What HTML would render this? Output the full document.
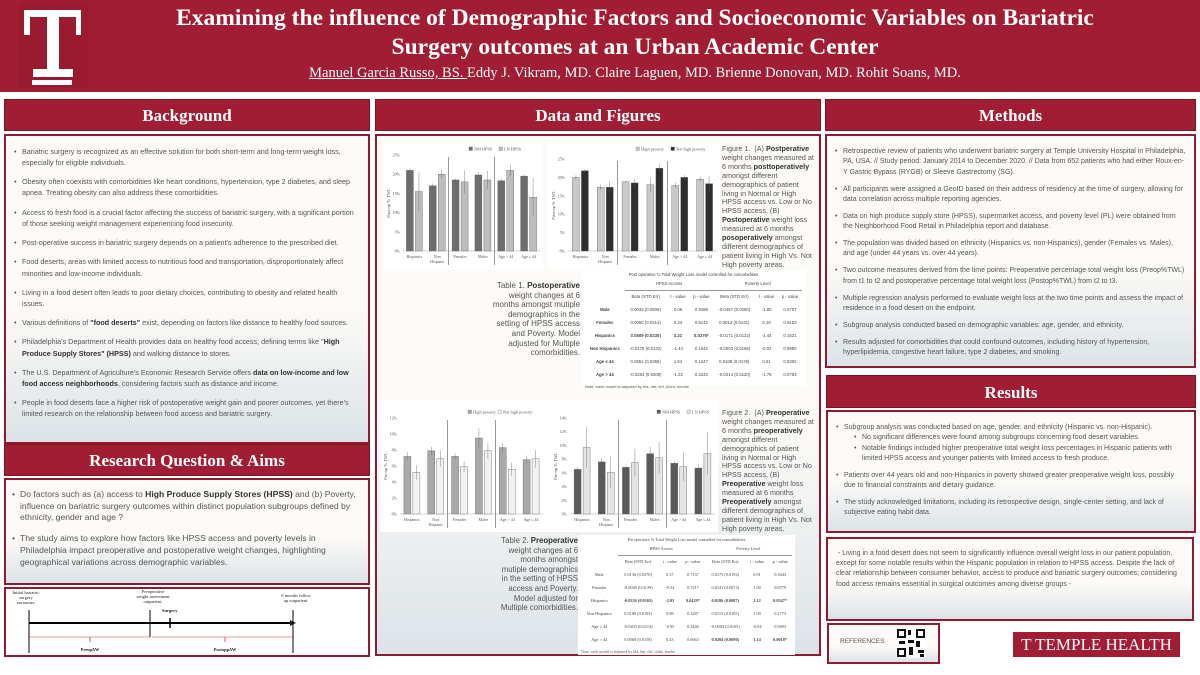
<!DOCTYPE html>
<html><head><meta charset="utf-8">
<style>
*{margin:0;padding:0;box-sizing:border-box}
body{width:1200px;height:675px;background:#fff;position:relative;overflow:hidden;font-family:"Liberation Sans",sans-serif;color:#555}
.abs{position:absolute}
.hdr{position:absolute;background:#a11d33;color:#fff;font-family:"Liberation Serif",serif;font-weight:bold;font-size:17px;text-align:center;border:1px solid #7d1426}
.box{position:absolute;border:2px solid #8e1b30;background:linear-gradient(#fdfbf8 55%,#dce3e7)}
ul{list-style:none}
li{position:relative;padding-left:10px}
li:before{content:"•";position:absolute;left:2px}
.bg li{font-size:7.2px;line-height:11.1px;margin-bottom:8.2px}
.mt li{font-size:7px;line-height:10.3px;margin-bottom:6.7px}
.cap{position:absolute;font-size:7.2px;line-height:8.9px;color:#555;white-space:nowrap}
.cap b{color:#333}
table{border-collapse:collapse;font-size:4.3px;color:#444;width:100%}
td{padding:0 2px;height:13px;text-align:center}
.tb{position:absolute;background:#fff}
</style></head><body>
<div class="abs" style="left:0;top:0;width:1200px;height:92px;background:#a11d33"></div>
<div class="abs" style="left:18px;top:4px;width:70px;height:84px;background:#9a1a30"></div>
<svg class="abs" style="left:18px;top:4px" width="70" height="84"><path d="M6 6h57v25h-5v-18h-17v52h14v8h-40v-8h14v-52h-17v18h-6z" fill="#fff"/><rect x="14" y="76" width="40" height="5" fill="#fff"/></svg>
<div class="abs" style="left:100px;top:4px;width:1070px;text-align:center;color:#fff;font-family:'Liberation Serif',serif;font-weight:bold;font-size:23.5px;line-height:29px">Examining the influence of Demographic Factors and Socioeconomic Variables on Bariatric<br>Surgery outcomes at an Urban Academic Center</div>
<div class="abs" style="left:100px;top:65px;width:1070px;text-align:center;color:#fff;font-family:'Liberation Serif',serif;font-size:14.5px"><u>Manuel Garcia Russo, BS. </u>Eddy J. Vikram, MD. Claire Laguen, MD. Brienne Donovan, MD. Rohit Soans, MD.</div>

<!-- left column -->
<div class="hdr" style="left:4px;top:99px;width:366px;height:32px;line-height:32px">Background</div>
<div class="box bg" style="left:4px;top:134px;width:366px;height:310px;padding:10px 8px 0 6px">
<ul>
<li>Bariatric surgery is recognized as an effective solution for both short-term and long-term weight loss, especially for eligible individuals.</li>
<li>Obesity often coexists with comorbidities like heart conditions, hypertension, type 2 diabetes, and sleep apnea. Treating obesity can also address these comorbidities.</li>
<li>Access to fresh food is a crucial factor affecting the success of bariatric surgery, with a significant portion of those seeking weight management experiencing food insecurity.</li>
<li>Post-operative success in bariatric surgery depends on a patient's adherence to the prescribed diet.</li>
<li>Food deserts, areas with limited access to nutritious food and transportation, disproportionately affect minorities and low-income individuals.</li>
<li>Living in a food desert often leads to poor dietary choices, contributing to obesity and related health issues.</li>
<li>Various definitions of <b style="color:#333">"food deserts"</b> exist, depending on factors like distance to healthy food sources.</li>
<li>Philadelphia's Department of Health provides data on healthy food access, defining terms like "<b style="color:#333">High Produce Supply Stores" (HPSS)</b> and walking distance to stores.</li>
<li>The U.S. Department of Agriculture's Economic Research Service offers <b style="color:#333">data on low-income and low food access neighborhoods</b>, considering factors such as distance and income.</li>
<li>People in food deserts face a higher risk of postoperative weight gain and poorer outcomes, yet there's limited research on the relationship between food access and bariatric surgery.</li>
</ul></div>
<div class="hdr" style="left:4px;top:444px;width:366px;height:32px;line-height:32px">Research Question &amp; Aims</div>
<div class="box" style="left:4px;top:478px;width:366px;height:107px;padding:9px 6px 0 4px">
<ul style="font-size:8.6px;line-height:11.7px">
<li style="margin-bottom:9px">Do factors such as (a) access to <b style="color:#333">High Produce Supply Stores (HPSS)</b> and (b) Poverty, influence on bariatric surgery outcomes within distinct population subgroups defined by ethnicity, gender and age ?</li>
<li>The study aims to explore how factors like HPSS access and poverty levels in Philadelphia impact preoperative and postoperative weight changes, highlighting geographical variations across demographic variables.</li>
</ul></div>
<div class="box" style="left:4px;top:587px;width:366px;height:70px;background:#fff"></div>
<svg class="abs" style="left:4px;top:587px" width="366" height="70" font-family="Liberation Serif" font-size="4.5" fill="#222">
<text x="22" y="7" text-anchor="middle">Initial bariatric</text><text x="22" y="12" text-anchor="middle">surgery</text><text x="22" y="17" text-anchor="middle">encounter.</text>
<text x="149" y="6" text-anchor="middle">Preoperative</text><text x="149" y="11" text-anchor="middle">weight assessment</text><text x="149" y="16" text-anchor="middle">outpatient.</text>
<text x="158" y="25" font-weight="bold">Surgery</text>
<text x="292" y="10" text-anchor="middle">6 months follow</text><text x="292" y="15" text-anchor="middle">up outpatient.</text>
<line x1="25" y1="36" x2="288" y2="36" stroke="#000" stroke-width="2"/><path d="M286 33l6 3-6 3z"/>
<line x1="25" y1="23" x2="25" y2="66" stroke="#000" stroke-width="1"/>
<line x1="146" y1="23" x2="146" y2="50" stroke="#000" stroke-width="1"/>
<line x1="166" y1="31" x2="166" y2="41" stroke="#000" stroke-width="1.5"/>
<line x1="289" y1="23" x2="289" y2="66" stroke="#000" stroke-width="1"/>
<path d="M25 50h121M148 50h141" stroke="#c33" stroke-width=".6" fill="none"/>
<path d="M86 50v5M221 50v5" stroke="#c33" stroke-width=".8"/>
<text x="86" y="64" text-anchor="middle" font-weight="bold">PreopΔW</text><text x="221" y="64" text-anchor="middle" font-weight="bold">PostoppΔW</text>
</svg>

<!-- middle -->
<div class="hdr" style="left:375px;top:99px;width:446px;height:32px;line-height:32px">Data and Figures</div>
<div class="box" style="left:375px;top:134px;width:446px;height:522px"></div>
<div class="abs" style="left:380px;top:400px;width:338px;height:132px;background:#fff"></div>
<div id="charts"></div>
<div class="cap" style="left:722px;top:145px">Figure 1. &nbsp;(A) <b>Postperative</b><br>weight changes measured at<br>6 months <b>posttoperatively</b><br>amongst different<br>demographics of patient<br>living in Normal or High<br>HPSS access vs. Low or No<br>HPSS access. (B)<br><b>Postoperative</b> weight loss<br>measured at 6 months<br><b>posoperatively</b> amongst<br>different demographics of<br>patient living in High Vs. Not<br>High poverty areas.</div>
<div class="cap" style="left:722px;top:409px">Figure 2. &nbsp;(A) <b>Preoperative</b><br>weight changes measured at<br>6 months <b>preoperatively</b><br>amongst different<br>demographics of patient<br>living in Normal or High<br>HPSS access vs. Low or No<br>HPSS access. (B)<br><b>Preoperative</b> weight loss<br>measured at 6 months<br><b>Preoperatively</b> amongst<br>different demographics of<br>patient living in High Vs. Not<br>High poverty areas.</div>
<div class="cap" style="left:440px;top:281px;width:140px;text-align:right;line-height:9.6px;font-size:8px">Table 1. <b>Postoperative</b><br>weight changes at 6<br>months amongst mutiple<br>demographics in the<br>setting of HPSS access<br>and Poverty. Model<br>adjusted for Multiple<br>comorbidities.</div>
<div class="cap" style="left:478px;top:536px;width:100px;text-align:right;line-height:9.6px;font-size:7.8px">Table 2. <b>Preoperative</b><br>weight changes at 6<br>months amongst<br>mutiple demographics<br>in the setting of HPSS<br>access and Poverty.<br>Model adjusted for<br>Multiple comorbidities.</div>
<div class="tb" style="left:582px;top:270px;width:223px;height:116px;padding:2px 3px">
<div style="font-size:4.2px;text-align:center;color:#444">Post operative % Total Weight Loss model controlled for comorbidities</div>
<table><tr style="height:8px"><td></td><td colspan="3" style="height:8px;border-bottom:.5px solid #999">HPSS Access</td><td colspan="3" style="height:8px;border-bottom:.5px solid #999">Poverty Level</td></tr>
<tr><td></td><td style="height:8px">Beta (STD Err)</td><td>t - value</td><td>p - value</td><td>Beta (STD Err)</td><td>t - value</td><td>p - value</td></tr>
<tr><td><b>Male</b></td><td>0.0032 (0.0508)</td><td>0.06</td><td>0.9499</td><td>-0.0467 (0.0260)</td><td>-1.80</td><td>0.0757</td></tr>
<tr><td><b>Females</b></td><td>0.0050 (0.0214)</td><td>0.24</td><td>0.8142</td><td>0.0013 (0.0131)</td><td>0.10</td><td>0.9153</td></tr>
<tr><td><b>Hispanics</b></td><td><b>0.0509 (0.0230)</b></td><td><b>2.21</b></td><td><b>0.0276*</b></td><td>-0.0171 (0.0122)</td><td>-1.44</td><td>0.1521</td></tr>
<tr><td><b>Non Hispanics</b></td><td>-0.0175 (0.0122)</td><td>-1.44</td><td>0.1542</td><td>-0.0003 (0.0166)</td><td>-0.02</td><td>0.9850</td></tr>
<tr><td><b>Age ≤ 44</b></td><td>0.0551 (0.0358)</td><td>1.54</td><td>0.1247</td><td>0.0108 (0.0176)</td><td>0.61</td><td>0.5392</td></tr>
<tr><td><b>Age &gt; 44</b></td><td>-0.0254 (0.0208)</td><td>-1.22</td><td>0.2242</td><td>-0.0214 (0.0120)</td><td>-1.78</td><td>0.0763</td></tr></table>
<div style="font-size:4px;margin-top:3px">Note: each model is adjusted by hld, htn, chf, t2dm, smoke</div></div>
<div class="tb" style="left:578px;top:535px;width:217px;height:120px;padding:2px 3px;font-family:'Liberation Serif',serif">
<div style="font-size:4.2px;text-align:center;color:#444">Pre operative % Total Weight Loss model controlled for comorbidities</div>
<table style="font-family:'Liberation Serif',serif"><tr><td></td><td colspan="3" style="height:8px;border-bottom:.5px solid #999">HPSS Access</td><td colspan="3" style="height:8px;border-bottom:.5px solid #999">Poverty Level</td></tr>
<tr><td></td><td style="height:8px">Beta (STD Err)</td><td>t - value</td><td>p - value</td><td>Beta (STD Err)</td><td>t - value</td><td>p - value</td></tr>
<tr><td>Male</td><td>0.0136 (0.0370)</td><td>0.37</td><td>0.7137</td><td>0.0175 (0.0192)</td><td>0.91</td><td>0.3643</td></tr>
<tr><td>Females</td><td>-0.0048 (0.0139)</td><td>-0.34</td><td>0.7317</td><td>0.0141 (0.0074)</td><td>1.90</td><td>0.0579</td></tr>
<tr><td>Hispanics</td><td><b>-0.0336 (0.0165)</b></td><td><b>-2.03</b></td><td><b>0.0429*</b></td><td><b>0.0186 (0.0087)</b></td><td><b>2.12</b></td><td><b>0.0347*</b></td></tr>
<tr><td>Non Hispanics</td><td>0.0188 (0.0193)</td><td>0.98</td><td>0.3287</td><td>0.0115 (0.0105)</td><td>1.09</td><td>0.2773</td></tr>
<tr><td>Age ≤ 44</td><td>-0.0203 (0.0214)</td><td>-0.95</td><td>0.3446</td><td>-0.0004 (0.0105)</td><td>-0.04</td><td>0.9693</td></tr>
<tr><td>Age &gt; 44</td><td>0.0068 (0.0158)</td><td>0.43</td><td>0.6663</td><td><b>0.0284 (0.0090)</b></td><td><b>3.14</b></td><td><b>0.0018*</b></td></tr></table>
<div style="font-size:4px;margin-top:3px">Note: each model is adjusted by hld, htn, chf, t2dm, smoke</div></div>

<!-- right -->
<div class="hdr" style="left:825px;top:99px;width:371px;height:32px;line-height:32px">Methods</div>
<div class="box mt" style="left:825px;top:134px;width:371px;height:234px;padding:11px 8px 0 6px">
<ul>
<li>Retrospective review of patients who underwent bariatric surgery at Temple University Hospital in Philadelphia, PA, USA. // Study period: January 2014 to December 2020. // Data from 652 patients who had either Roux-en-Y Gastric Bypass (RYGB) or Sleeve Gastrectomy (SG).</li>
<li>All participants were assigned a GeoID based on their address of residency at the time of surgery, allowing for data correlation across multiple reporting agencies.</li>
<li>Data on high produce supply store (HPSS), supermarket access, and poverty level (PL) were obtained from the Neighborhood Food Retail in Philadelphia report and database.</li>
<li>The population was divided based on ethnicity (Hispanics vs. non-Hispanics), gender (Females vs. Males), and age (under 44 years vs. over 44 years).</li>
<li>Two outcome measures derived from the time points: Preoperative percentage total weight loss (Preop%TWL) from t1 to t2 and postoperative percentage total weight loss (Postop%TWL) from t2 to t3.</li>
<li>Multiple regression analysis performed to evaluate weight loss at the two time points and assess the impact of residence in a food desert on the endpoint.</li>
<li>Subgroup analysis conducted based on demographic variables: age, gender, and ethnicity.</li>
<li>Results adjusted for comorbidities that could confound outcomes, including history of hypertension, hyperlipidemia, congestive heart failure, type 2 diabetes, and smoking.</li>
</ul></div>
<div class="hdr" style="left:826px;top:375px;width:370px;height:33px;line-height:33px">Results</div>
<div class="box mt" style="left:826px;top:410px;width:370px;height:123px;padding:11px 8px 0 6px">
<ul>
<li style="margin-bottom:0">Subgroup analysis was conducted based on age, gender, and ethnicity (Hispanic vs. non-Hispanic).</li>
<li style="margin-left:18px;margin-bottom:0">No significant differences were found among subgroups concerning food desert variables.</li>
<li style="margin-left:18px">Notable findings included higher preoperative total weight loss percentages in Hispanic patients with limited HPSS access and younger patients with limited access to fresh produce.</li>
<li>Patients over 44 years old and non-Hispanics in poverty showed greater preoperative weight loss, possibly due to financial constraints and dietary guidance.</li>
<li>The study acknowledged limitations, including its retrospective design, single-center setting, and lack of subjective eating habit data.</li>
</ul></div>
<div class="box" style="left:826px;top:537px;width:368px;height:84px;padding:10px 8px 0 8px;font-size:7px;line-height:10.2px">&nbsp;- Living in a food desert does not seem to significantly influence overall weight loss in our patient population, except for some notable results within the Hispanic population in relation to HPSS access. Despite the lack of clear relationship between consumer behavior, access to produce and bariatric surgery outcomes; considering food access remains essential in surgical outcomes among diverse groups -</div>
<div class="box" style="left:827px;top:623px;width:113px;height:41px;padding:13px 0 0 11px;font-size:6.5px">REFERENCES</div>
<svg class="abs" style="left:896px;top:628px" width="30" height="30"><rect width="30" height="30" fill="#fff"/><g fill="#111"><rect x="1" y="1" width="9" height="9"/><rect x="20" y="1" width="9" height="9"/><rect x="1" y="20" width="9" height="9"/><rect x="12" y="2" width="3" height="5"/><rect x="12" y="12" width="6" height="3"/><rect x="20" y="13" width="4" height="6"/><rect x="13" y="19" width="4" height="8"/><rect x="22" y="22" width="6" height="3"/><rect x="3" y="13" width="6" height="3"/><rect x="24" y="26" width="4" height="3"/></g><g fill="#fff"><rect x="3" y="3" width="5" height="5"/><rect x="22" y="3" width="5" height="5"/><rect x="3" y="22" width="5" height="5"/></g></svg>
<div class="abs" style="left:1013px;top:632px;width:167px;height:25px;background:#a11d33;color:#fff;font-family:'Liberation Serif',serif;font-size:17px;line-height:25px;text-align:center">T TEMPLE HEALTH</div>

<script>
function chart(o){
  var W=o.w,H=o.h,L=20,B=18,T=o.top||14,R=3,ph=H-B-T,pw=W-L-R;
  var s='<svg class="abs" style="left:'+o.x+'px;top:'+o.y+'px;background:#fff" width="'+W+'" height="'+H+'" font-family="Liberation Serif" fill="#555">';
  for(var v=0;v<=o.max+1e-9;v+=o.step){var yy=T+ph-ph*v/o.max;s+='<text x="'+(L-3)+'" y="'+(yy+1.5)+'" font-size="4" text-anchor="end">'+Math.round(v)+'%</text>';}
  s+='<line x1="'+L+'" y1="'+(T+ph)+'" x2="'+(W-R)+'" y2="'+(T+ph)+'" stroke="#aaa" stroke-width=".6"/>';
  s+='<text transform="translate(7,'+(T+ph/2)+') rotate(-90)" font-size="4.5" text-anchor="middle">'+o.yl+'</text>';
  var labs=['Hispanics','Non','Females','Males','Age > 44','Age ≤ 44'],gw=pw/6;
  o.d.forEach(function(g,i){
    var cx=L+gw*i+gw/2;
    [0,1].forEach(function(k){
      var v=g[k],bh=ph*v/o.max,bx=cx+(k?1:-8),by=T+ph-bh;
      s+='<rect x="'+bx+'" y="'+by+'" width="7" height="'+bh+'" fill="'+o.c[k]+'" stroke="#666" stroke-width=".4"/>';
      var e=ph*g[2+k]/o.max;s+='<line x1="'+(bx+3.5)+'" y1="'+(by-e)+'" x2="'+(bx+3.5)+'" y2="'+(by+e)+'" stroke="#666" stroke-width=".4"/>';
    });
    s+='<text x="'+cx+'" y="'+(T+ph+7)+'" font-size="4" text-anchor="middle">'+labs[i]+'</text>';
    if(i==1)s+='<text x="'+cx+'" y="'+(T+ph+12)+'" font-size="4" text-anchor="middle">Hispanic</text>';
  });
  [2,4].forEach(function(i){var xx=L+gw*i;s+='<line x1="'+xx+'" y1="'+(T+2)+'" x2="'+xx+'" y2="'+(H-4)+'" stroke="#555" stroke-width=".6"/>';});
  s+='<rect x="'+o.lx+'" y="6" width="3.5" height="3.5" fill="'+o.c[0]+'" stroke="#666" stroke-width=".3"/><text x="'+(o.lx+5)+'" y="9.3" font-size="4.3">'+o.l[0]+'</text>';
  s+='<rect x="'+(o.lx+o.lg)+'" y="6" width="3.5" height="3.5" fill="'+o.c[1]+'" stroke="#666" stroke-width=".3"/><text x="'+(o.lx+o.lg+5)+'" y="9.3" font-size="4.3">'+o.l[1]+'</text>';
  return s+'</svg>';
}
var h='';
h+=chart({x:383,y:141,w:160,h:128,max:25,step:5,yl:'Post-op % TWL',c:['#6d6d6d','#bdbdbd'],l:['NM HPSS','LN HPSS'],lx:86,lg:30,
 d:[[21,15.5,.4,5],[17,20,.6,1.2],[18.5,18,.4,3],[19.8,18.5,.8,2.4],[18.3,21,.5,1.5],[19.5,14,.4,5]]});
h+=chart({x:548,y:141,w:172,h:128,max:25,step:5,top:18,yl:'Post-op % TWL',c:['#c9c9c9','#2e2e2e'],l:['High poverty','Not high poverty'],lx:88,lg:35,
 d:[[20,21.8,.6,.5],[17.3,17.3,.8,1.6],[18.8,18.5,.3,1.2],[18,22.5,2,1],[17.8,20,.8,.7],[19.5,18.3,.7,2]]});
h+=chart({x:380,y:404,w:166,h:128,max:12,step:2,yl:'Pre-op % TWL',c:['#a9a9a9','#f2f2f2'],l:['High poverty','Not high poverty'],lx:88,lg:30,
 d:[[7.2,5.2,.5,.9],[7.9,6.9,.5,1],[7.2,5.9,.4,.7],[9.5,7.9,1.2,1],[8.3,5.6,.6,.8],[6.8,6.9,.5,1.1]]});
h+=chart({x:550,y:404,w:168,h:128,max:14,step:2,yl:'Pre-op % TWL',c:['#5a5a5a','#e4e4e4'],l:['NM HPSS','LN HPSS'],lx:107,lg:30,
 d:[[6.5,9.7,.3,3],[7.6,6.1,.5,2.3],[6.8,7.5,.3,2],[8.8,8.2,1,2.3],[7.4,6.9,.3,2.1],[6.7,8.8,.5,3.1]]});
document.getElementById('charts').innerHTML=h;
</script>
</body></html>
